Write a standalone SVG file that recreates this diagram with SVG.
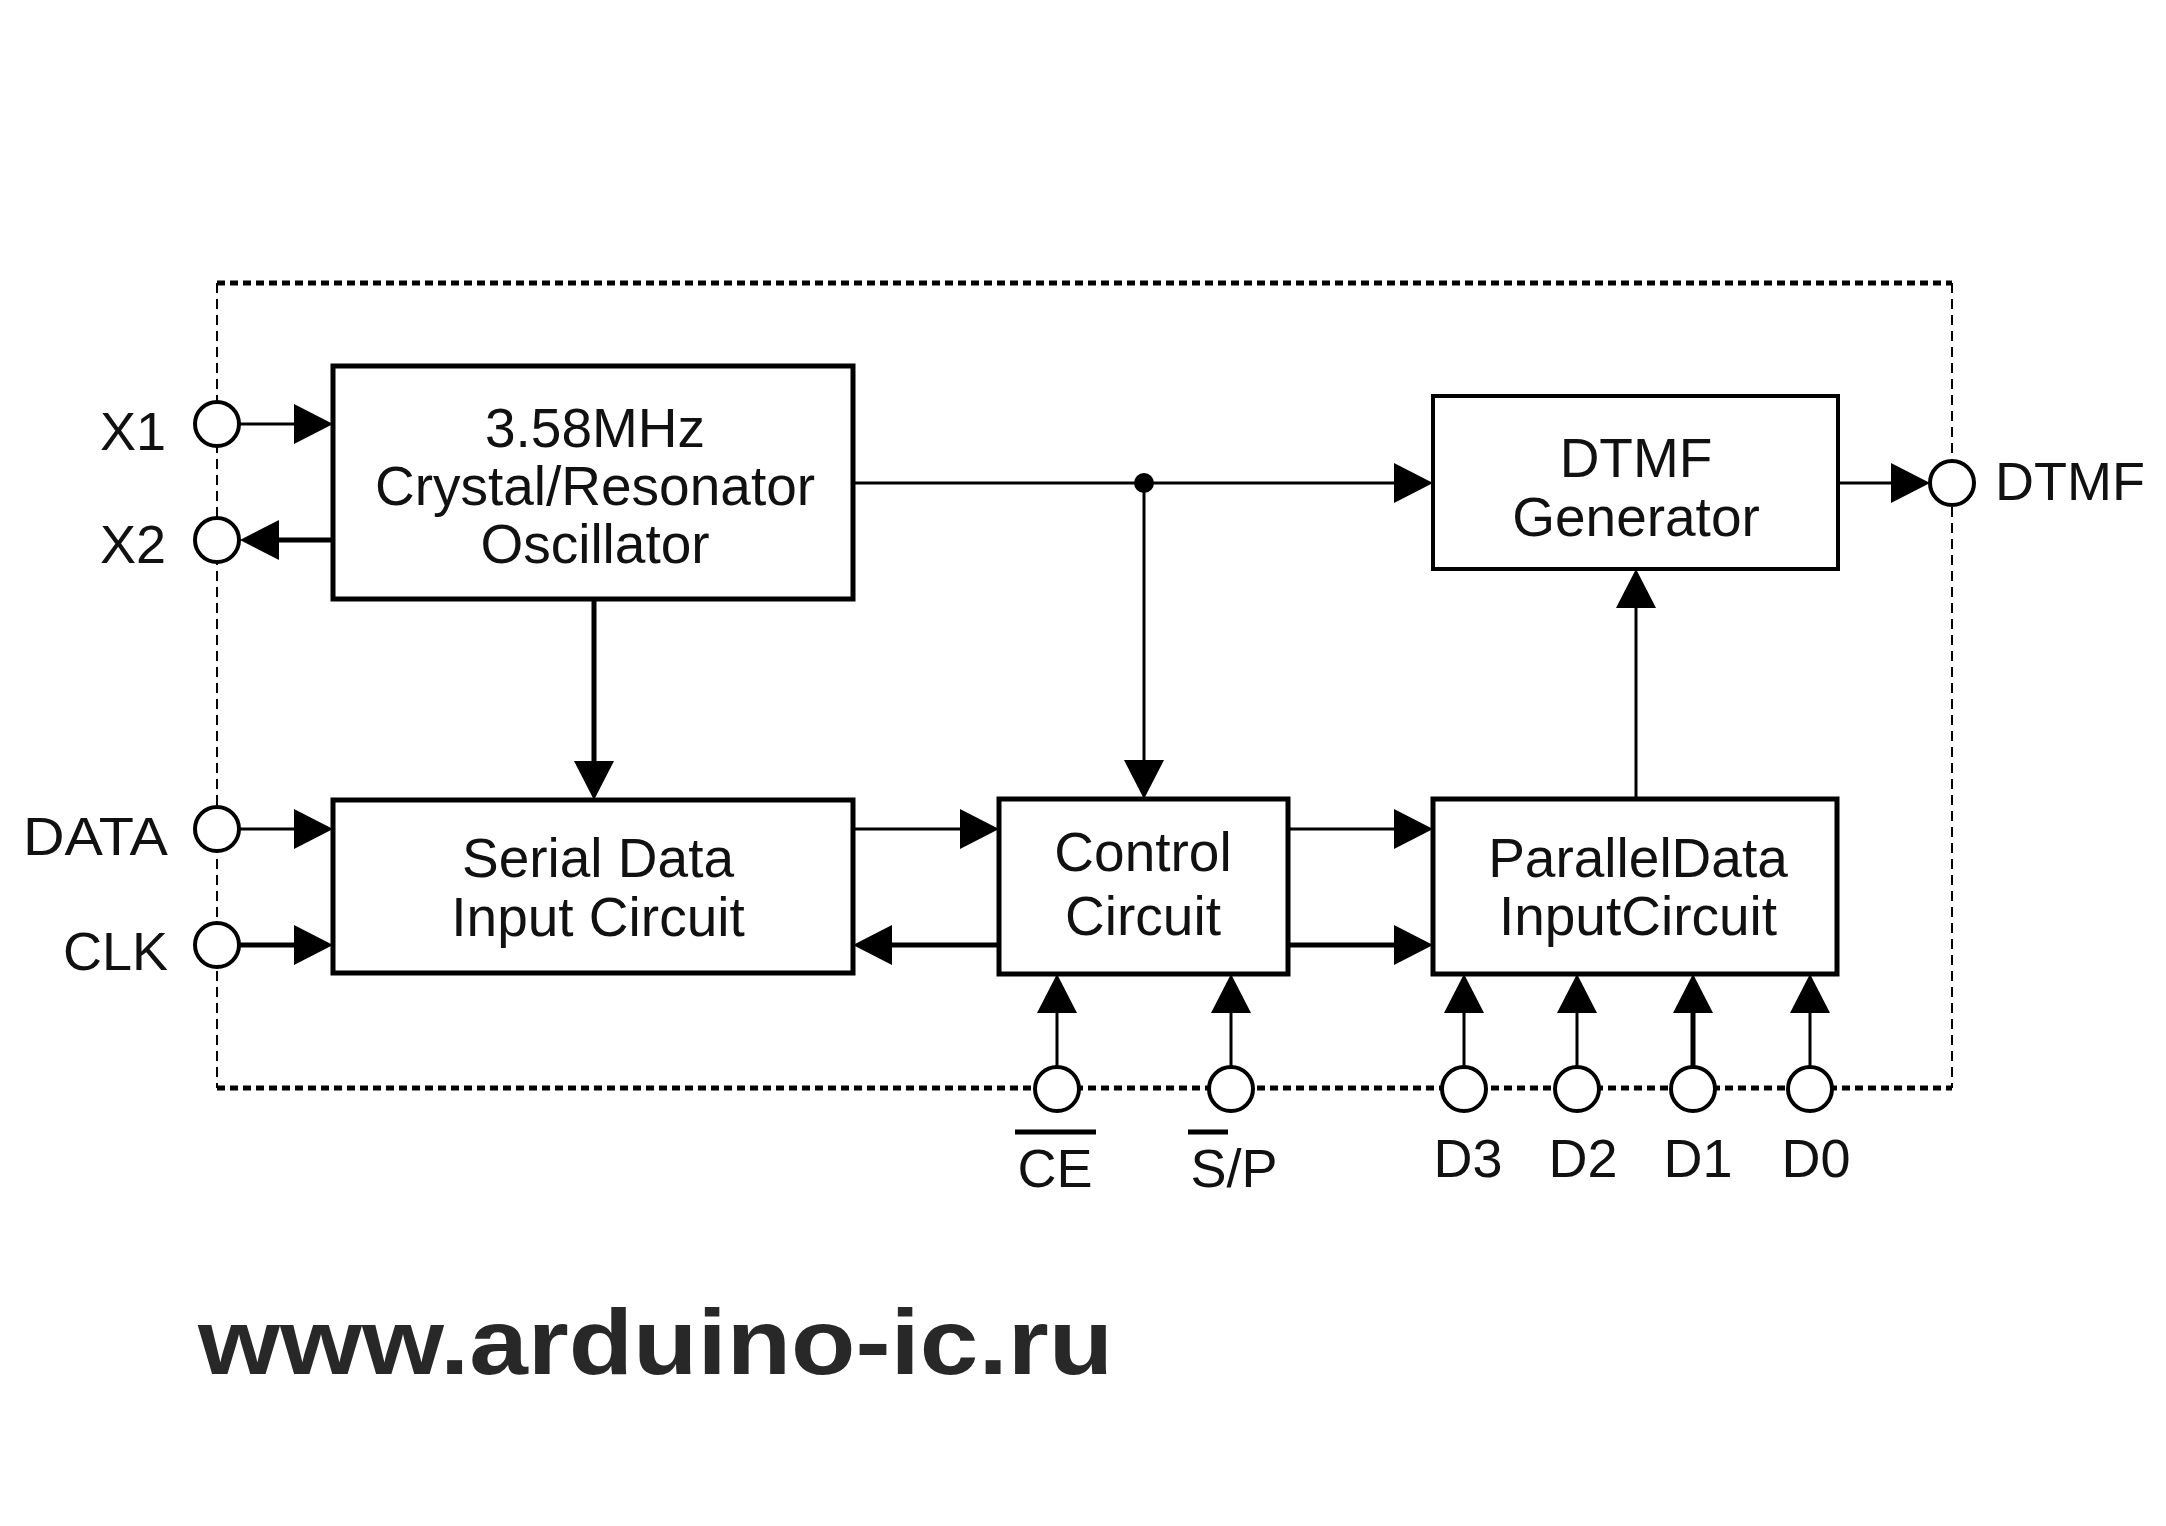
<svg xmlns="http://www.w3.org/2000/svg" width="2166" height="1526" viewBox="0 0 2166 1526">
<style>
.bg{fill:#fff}
.box{fill:#fff;stroke:#000;stroke-width:5}
.box2{fill:#fff;stroke:#000;stroke-width:4}
.lbl{font-family:"Liberation Sans",Arial,sans-serif;font-size:55px;fill:#111}
.pin{font-family:"Liberation Sans",Arial,sans-serif;font-size:54px;fill:#111}
.thin{stroke:#000;stroke-width:3;fill:none;marker-end:url(#ah)}
.thick{stroke:#000;stroke-width:5;fill:none;marker-end:url(#ah)}
.pinc{fill:#fff;stroke:#000;stroke-width:4}
.bh{stroke:#000;stroke-width:5;stroke-dasharray:8 5;fill:none}
.bv{stroke:#000;stroke-width:2;stroke-dasharray:10 6;fill:none}
.url{font-family:"Liberation Sans",Arial,sans-serif;font-weight:bold;font-size:92px;fill:#282828}
</style>
<defs>
<marker id="ah" viewBox="0 0 39 40" refX="19" refY="20" markerWidth="39" markerHeight="40" markerUnits="userSpaceOnUse" orient="auto">
<path d="M0,0 L39,20 L0,40 z" fill="#000"/>
</marker>
</defs>
<rect class="bg" x="0" y="0" width="2166" height="1526"/>
<g id="border">
<line class="bh" x1="217" y1="283" x2="1952" y2="283"/>
<line class="bh" x1="217" y1="1088" x2="1952" y2="1088"/>
<line class="bv" x1="217" y1="283" x2="217" y2="1088"/>
<line class="bv" x1="1952" y1="283" x2="1952" y2="1088"/>
</g>
<g id="connectors">
<line class="thin" x1="240" y1="424" x2="313" y2="424"/>
<line class="thick" x1="333" y1="540" x2="260" y2="540"/>
<line class="thin" x1="240" y1="829" x2="313" y2="829"/>
<line class="thick" x1="240" y1="945" x2="313" y2="945"/>
<line class="thick" x1="594" y1="599" x2="594" y2="780"/>
<line class="thin" x1="853" y1="483" x2="1413" y2="483"/>
<line class="thin" x1="1144" y1="483" x2="1144" y2="779"/>
<line class="thin" x1="853" y1="829" x2="979" y2="829"/>
<line class="thick" x1="999" y1="945" x2="873" y2="945"/>
<line class="thin" x1="1288" y1="829" x2="1413" y2="829"/>
<line class="thick" x1="1288" y1="945" x2="1413" y2="945"/>
<line class="thin" x1="1636" y1="799" x2="1636" y2="589"/>
<line class="thin" x1="1838" y1="483" x2="1910" y2="483"/>
<line class="thin" x1="1057" y1="1066" x2="1057" y2="994"/>
<line class="thin" x1="1231" y1="1066" x2="1231" y2="994"/>
<line class="thin" x1="1464" y1="1066" x2="1464" y2="994"/>
<line class="thin" x1="1577" y1="1066" x2="1577" y2="994"/>
<line class="thick" x1="1693" y1="1066" x2="1693" y2="994"/>
<line class="thin" x1="1810" y1="1066" x2="1810" y2="994"/>
<circle cx="1144" cy="483" r="10" fill="#000"/>
</g>
<g id="oscillator">
<rect class="box" x="333" y="366" width="520" height="233"/>
<text class="lbl" x="595" y="447" text-anchor="middle">3.58MHz</text>
<text class="lbl" x="595" y="505" text-anchor="middle">Crystal/Resonator</text>
<text class="lbl" x="595" y="563" text-anchor="middle">Oscillator</text>
</g>
<g id="dtmf-generator">
<rect class="box2" x="1433" y="396" width="405" height="173"/>
<text class="lbl" x="1636" y="477" text-anchor="middle">DTMF</text>
<text class="lbl" x="1636" y="536" text-anchor="middle">Generator</text>
</g>
<g id="serial-input">
<rect class="box" x="333" y="800" width="520" height="173"/>
<text class="lbl" x="598" y="877" text-anchor="middle">Serial Data</text>
<text class="lbl" x="598" y="936" text-anchor="middle">Input Circuit</text>
</g>
<g id="control">
<rect class="box" x="999" y="799" width="289" height="175"/>
<text class="lbl" x="1143" y="871" text-anchor="middle">Control</text>
<text class="lbl" x="1143" y="935" text-anchor="middle">Circuit</text>
</g>
<g id="parallel-input">
<rect class="box" x="1433" y="799" width="404" height="175"/>
<text class="lbl" x="1638" y="877" text-anchor="middle">ParallelData</text>
<text class="lbl" x="1638" y="935" text-anchor="middle">InputCircuit</text>
</g>
<g id="pin-x1"><circle class="pinc" cx="217" cy="424" r="22"/><text class="pin" x="166" y="450" text-anchor="end">X1</text></g>
<g id="pin-x2"><circle class="pinc" cx="217" cy="540" r="22"/><text class="pin" x="166" y="563" text-anchor="end">X2</text></g>
<g id="pin-data"><circle class="pinc" cx="217" cy="829" r="22"/><text class="pin" x="23" y="855" textLength="145" lengthAdjust="spacingAndGlyphs">DATA</text></g>
<g id="pin-clk"><circle class="pinc" cx="217" cy="945" r="22"/><text class="pin" x="168" y="970" text-anchor="end">CLK</text></g>
<g id="pin-dtmf"><circle class="pinc" cx="1952" cy="483" r="22"/><text class="pin" x="1995" y="500">DTMF</text></g>
<g id="pin-ce"><circle class="pinc" cx="1057" cy="1089" r="22"/><line x1="1015" y1="1132" x2="1096" y2="1132" stroke="#000" stroke-width="5"/><text class="pin" x="1055" y="1187" text-anchor="middle">CE</text></g>
<g id="pin-sp"><circle class="pinc" cx="1231" cy="1089" r="22"/><line x1="1188" y1="1132" x2="1228" y2="1132" stroke="#000" stroke-width="5"/><text class="pin" x="1234" y="1187" text-anchor="middle">S/P</text></g>
<g id="pin-d3"><circle class="pinc" cx="1464" cy="1089" r="22"/><text class="pin" x="1468" y="1177" text-anchor="middle">D3</text></g>
<g id="pin-d2"><circle class="pinc" cx="1577" cy="1089" r="22"/><text class="pin" x="1583" y="1177" text-anchor="middle">D2</text></g>
<g id="pin-d1"><circle class="pinc" cx="1693" cy="1089" r="22"/><text class="pin" x="1698" y="1177" text-anchor="middle">D1</text></g>
<g id="pin-d0"><circle class="pinc" cx="1810" cy="1089" r="22"/><text class="pin" x="1816" y="1177" text-anchor="middle">D0</text></g>
<text class="url" x="198" y="1374" textLength="915" lengthAdjust="spacingAndGlyphs">www.arduino-ic.ru</text>
</svg>
